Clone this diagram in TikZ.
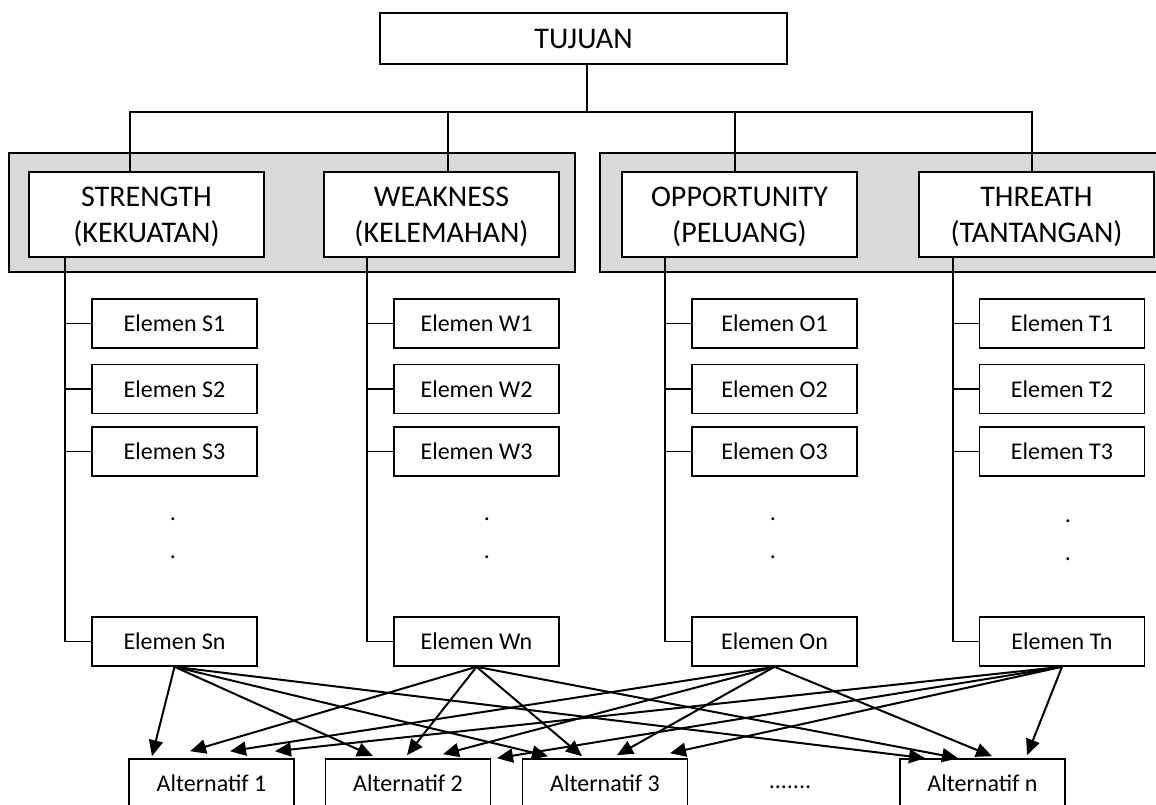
\documentclass[tikz,border=0pt]{standalone}
\usepackage{fontspec}
\setmainfont{Carlito}
\usepackage{tikz}
\usetikzlibrary{arrows.meta}
\definecolor{panelgray}{RGB}{217,217,217}

\begin{document}
\begin{tikzpicture}[x=0.5pt, y=-0.5pt, line width=0.8pt,
	panel/.style={draw, fill=panelgray},
	mainbox/.style={draw, fill=white, minimum width=203.5pt, minimum height=25.5pt, inner sep=0pt, font=\fontsize{15}{18}\selectfont},
	catbox/.style={draw, fill=white, minimum width=117.5pt, minimum height=42.5pt, inner sep=0pt, text depth=0pt, align=center, font=\fontsize{15}{18}\selectfont},
	elbox/.style={draw, fill=white, minimum width=82.5pt, minimum height=24.5pt, inner sep=0pt, font=\fontsize{12}{14}\selectfont},
	altbox/.style={draw, fill=white, minimum width=82.5pt, minimum height=24pt, inner sep=0pt, font=\fontsize{12}{14}\selectfont},
	dotlbl/.style={inner sep=0pt, font=\fontsize{12}{14}\selectfont},
	link/.style={line width=1pt, -{Triangle[length=8pt,width=7pt]}}]
	\useasboundingbox (0,0) rectangle (1156,804);

	% Panels:
	\draw[panel] (9,153) rectangle (575,272);
	\draw[panel] (600,153) rectangle (1170,272);

	% Boxes:
	\node[mainbox] (tujuan) at (583.5,38.5) {TUJUAN};

	\node[catbox] (strength) at (146.5,214.5) {STRENGTH\\(KEKUATAN)};
	\node[catbox] (weakness) at (441.5,214.5) {WEAKNESS\\(KELEMAHAN)};
	\node[catbox] (opportunity) at (739.5,214.5) {OPPORTUNITY\\(PELUANG)};
	\node[catbox] (threath) at (1036.5,214.5) {THREATH\\(TANTANGAN)};

	\node[elbox] (s1) at (174.5,323.5) {Elemen S1};
	\node[elbox] (s2) at (174.5,389) {Elemen S2};
	\node[elbox] (s3) at (174.5,451.5) {Elemen S3};
	\node[elbox] (sn) at (174.5,641.5) {Elemen Sn};

	\node[elbox] (w1) at (476.5,323.5) {Elemen W1};
	\node[elbox] (w2) at (476.5,389) {Elemen W2};
	\node[elbox] (w3) at (476.5,451.5) {Elemen W3};
	\node[elbox] (wn) at (476.5,641.5) {Elemen Wn};

	\node[elbox] (o1) at (774.5,323.5) {Elemen O1};
	\node[elbox] (o2) at (774.5,389) {Elemen O2};
	\node[elbox] (o3) at (774.5,451.5) {Elemen O3};
	\node[elbox] (on) at (774.5,641.5) {Elemen On};

	\node[elbox] (t1) at (1062,323.5) {Elemen T1};
	\node[elbox] (t2) at (1062,389) {Elemen T2};
	\node[elbox] (t3) at (1062,451.5) {Elemen T3};
	\node[elbox] (tn) at (1062,641.5) {Elemen Tn};

	\node[altbox] (alt1) at (211.5,783) {Alternatif 1};
	\node[altbox] (alt2) at (408,783) {Alternatif 2};
	\node[altbox] (alt3) at (605,783) {Alternatif 3};
	\node[dotlbl] (altdots) at (790,787) {.......};
	\node[altbox] (altn) at (982.5,783) {Alternatif n};

	% Dots:
	\node[dotlbl] (sdot1) at (173,519) {.};
	\node[dotlbl] (sdot2) at (173,557) {.};
	\node[dotlbl] (wdot1) at (487,519) {.};
	\node[dotlbl] (wdot2) at (487,557) {.};
	\node[dotlbl] (odot1) at (773,519) {.};
	\node[dotlbl] (odot2) at (773,557) {.};
	\node[dotlbl] (tdot1) at (1068,521) {.};
	\node[dotlbl] (tdot2) at (1068,559) {.};

	% Tree lines:
	\coordinate (bus) at ([xshift=1.75pt]tujuan.south |- 0,112);
	\coordinate (sdrop) at ([xshift=-8.25pt]strength.north);
	\coordinate (wdrop) at ([xshift=3.25pt]weakness.north);
	\coordinate (odrop) at ([xshift=-2.25pt]opportunity.north);
	\coordinate (tdrop) at ([xshift=-2.25pt]threath.north);
	\draw (bus |- tujuan.south) -- (bus);
	\draw (sdrop) -- (sdrop |- bus) -- (tdrop |- bus) -- (tdrop);
	\draw (wdrop) -- (wdrop |- bus);
	\draw (odrop) -- (odrop |- bus);

	\coordinate (sstem) at ([xshift=-13pt]sn.west);
	\coordinate (wstem) at ([xshift=-13pt]wn.west);
	\coordinate (ostem) at ([xshift=-13pt]on.west);
	\coordinate (tstem) at ([xshift=-13pt]tn.west);
	\draw (sstem |- strength.south) |- (sn.west);
	\draw (wstem |- weakness.south) |- (wn.west);
	\draw (ostem |- opportunity.south) |- (on.west);
	\draw (tstem |- threath.south) |- (tn.west);

	\draw (sstem |- s1.west) -- (s1.west);
	\draw (sstem |- s2.west) -- (s2.west);
	\draw (sstem |- s3.west) -- (s3.west);
	\draw (wstem |- w1.west) -- (w1.west);
	\draw (wstem |- w2.west) -- (w2.west);
	\draw (wstem |- w3.west) -- (w3.west);
	\draw (ostem |- o1.west) -- (o1.west);
	\draw (ostem |- o2.west) -- (o2.west);
	\draw (ostem |- o3.west) -- (o3.west);
	\draw (tstem |- t1.west) -- (t1.west);
	\draw (tstem |- t2.west) -- (t2.west);
	\draw (tstem |- t3.west) -- (t3.west);

	% Arrows:
	\draw[link] (sn.south) -- ([xshift=-29.75pt,yshift=1pt]alt1.north);
	\draw[link] (sn.south) -- ([xshift=-17.5pt,yshift=1pt]alt2.north);
	\draw[link] (sn.south) -- ([xshift=-28.5pt,yshift=1pt]alt3.north);
	\draw[link] (sn.south) -- ([xshift=-28.75pt]altn.north);

	\draw[link] (wn.south) -- ([xshift=-10.75pt,yshift=3.5pt]alt1.north);
	\draw[link] (wn.south) -- ([xshift=-0.5pt,yshift=1.5pt]alt2.north);
	\draw[link] (wn.south) -- ([xshift=-11.5pt,yshift=1pt]alt3.north);
	\draw[link] (wn.south) -- ([xshift=-12.25pt]altn.north);

	\draw[link] (on.south) -- ([xshift=9.25pt,yshift=3.5pt]alt1.north);
	\draw[link] (on.south) -- ([xshift=17.5pt,yshift=2pt]alt2.north);
	\draw[link] (on.south) -- ([xshift=6pt,yshift=1.5pt]alt3.north);
	\draw[link] (on.south) -- ([xshift=4.75pt,yshift=1pt]altn.north);

	\draw[link] (tn.south) -- ([xshift=31.75pt,yshift=3.5pt]alt1.north);
	\draw[link] (tn.south) -- ([xshift=44.5pt]alt2.north);
	\draw[link] (tn.south) -- ([xshift=32.5pt,yshift=2.5pt]alt3.north);
	\draw[link] (tn.south) -- ([xshift=22.25pt,yshift=1.5pt]altn.north);

\end{tikzpicture}
\end{document}
